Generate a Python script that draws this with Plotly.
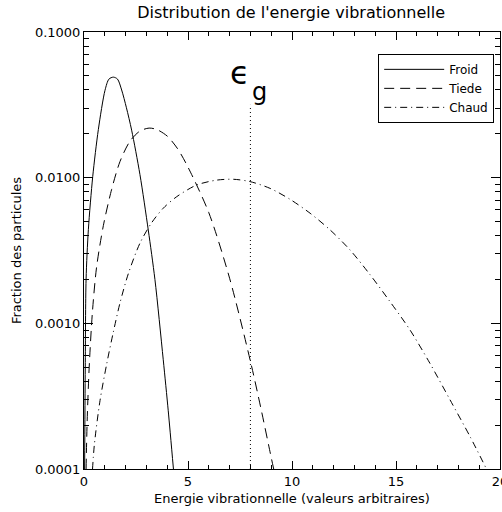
import plotly.graph_objects as go

# Froid (solid)
froid_x = [0.03, 0.06, 0.10, 0.21, 0.42, 0.69, 1.01, 1.20, 1.41, 1.61, 1.81, 2.04, 2.29, 2.69, 3.09, 3.41, 3.81, 4.05, 4.30]
froid_y = [1.0e-4, 5.0e-4, 2.0e-3, 4.4e-3, 0.0102, 0.0214, 0.0398, 0.0475, 0.0490, 0.0475, 0.0400, 0.0302, 0.0212, 0.0105, 0.00437, 0.00200, 0.000562, 0.000251, 1.0e-4]

# Tiede (dashed)
tiede_x = [0.10, 0.15, 0.25, 0.40, 0.60, 0.93, 1.33, 1.73, 2.21, 2.69, 3.13, 3.50, 4.00, 4.50, 5.00, 6.00, 7.00, 8.00, 8.50, 9.00, 9.12]
tiede_y = [1.0e-4, 2.09e-4, 5.01e-4, 1.17e-3, 2.40e-3, 4.68e-3, 8.32e-3, 0.0129, 0.0178, 0.0209, 0.0219, 0.0214, 0.0193, 0.0158, 0.0118, 5.75e-3, 2.04e-3, 5.50e-4, 2.63e-4, 1.20e-4, 1.0e-4]

# Chaud (dash-dot)
chaud_x = [0.41, 0.50, 0.77, 1.09, 1.41, 1.73, 2.13, 2.69, 3.25, 3.81, 4.46, 5.42, 6.38, 7.18, 7.98, 8.94, 9.90, 10.87, 11.83, 12.79, 13.75, 14.71, 15.67, 16.63, 17.60, 18.56, 19.35]
chaud_y = [1.0e-4, 1.48e-4, 2.95e-4, 5.25e-4, 8.71e-4, 1.38e-3, 2.19e-3, 3.55e-3, 4.90e-3, 6.17e-3, 7.41e-3, 8.91e-3, 9.62e-3, 9.75e-3, 9.40e-3, 8.45e-3, 7.11e-3, 5.70e-3, 4.38e-3, 3.19e-3, 2.16e-3, 1.41e-3, 9.02e-4, 5.32e-4, 2.98e-4, 1.67e-4, 1.0e-4]

# Energy threshold marker
eg_x = [8.0, 8.0]
eg_y = [1.0e-4, 0.0316]

y_tickvals = [1e-4, 1e-3, 1e-2, 1e-1]
y_ticktext = ["0.0001", "0.0010", "0.0100", "0.1000"]
x_tickvals = [0, 5, 10, 15, 20]
x_ticktext = ["0", "5", "10", "15", "20"]

FONT = "DejaVu Sans"
LINE = dict(color="black", width=1, shape="spline", smoothing=0.8)

fig = go.Figure()
fig.add_trace(go.Scatter(x=froid_x, y=froid_y, mode="lines", name="Froid", line=LINE))
fig.add_trace(go.Scatter(x=tiede_x, y=tiede_y, mode="lines", name="Tiede",
                         line=dict(LINE, dash="10px,6px")))
fig.add_trace(go.Scatter(x=chaud_x, y=chaud_y, mode="lines", name="Chaud",
                         line=dict(LINE, dash="7px,4px,1px,4px")))
fig.add_trace(go.Scatter(x=eg_x, y=eg_y, mode="lines", showlegend=False, xaxis="x2", yaxis="y2",
                         line=dict(color="black", width=1, dash="1px,3px")))

axis_common = dict(ticks="inside", tickcolor="black", showgrid=False, zeroline=False, automargin=False)

fig.update_layout(
    width=502, height=512,
    margin=dict(l=84, r=2, t=32, b=43, autoexpand=False),
    paper_bgcolor="white", plot_bgcolor="white",
    font=dict(family=FONT, size=13, color="black"),
    title=dict(text="Distribution de l'energie vibrationnelle", x=0.58, xanchor="center",
               y=0.975, yanchor="middle", font=dict(size=16, family=FONT)),
    showlegend=True,
    legend=dict(x=0.986, y=0.95, xanchor="right", yanchor="top",
                bordercolor="black", borderwidth=1, bgcolor="white",
                font=dict(size=12, family=FONT), itemwidth=60, tracegroupgap=0),
    xaxis=dict(range=[0, 20], tickmode="array", tickvals=x_tickvals, ticktext=x_ticktext,
               ticklen=8, showline=True, linecolor="black", linewidth=1, mirror=True,
               ticklabeloverflow="allow",
               minor=dict(ticks="inside", ticklen=4, dtick=1, tickcolor="black", showgrid=False),
               title=dict(text="Energie vibrationnelle (valeurs arbitraires)", standoff=6,
                          font=dict(size=13)), **axis_common),
    yaxis=dict(type="log", range=[-4, -1], tickmode="array", tickvals=y_tickvals, ticktext=y_ticktext,
               ticklen=9, showline=True, linecolor="black", linewidth=1, mirror=True,
               minor=dict(ticks="inside", ticklen=5, dtick="D1", tickcolor="black", showgrid=False),
               title=dict(text="Fraction des particules", standoff=10, font=dict(size=13)),
               **axis_common),
    xaxis2=dict(overlaying="x", side="top", range=[0, 20], tickmode="array", tickvals=x_tickvals,
                showticklabels=False, ticklen=8, showline=False,
                minor=dict(ticks="inside", ticklen=4, dtick=1, tickcolor="black", showgrid=False),
                **axis_common),
    yaxis2=dict(overlaying="y", side="right", type="log", range=[-4, -1], tickmode="array",
                tickvals=y_tickvals, showticklabels=False, ticklen=9, showline=False,
                minor=dict(ticks="inside", ticklen=5, dtick="D1", tickcolor="black", showgrid=False),
                **axis_common),
)

fig.add_annotation(text="\u03f5", xref="paper", yref="paper", x=0.375, y=0.955,
                   showarrow=False, font=dict(size=32, family=FONT))
fig.add_annotation(text="g", xref="paper", yref="paper", x=0.421, y=0.90,
                   showarrow=False, font=dict(size=24, family=FONT))

fig.write_html("out.html")
